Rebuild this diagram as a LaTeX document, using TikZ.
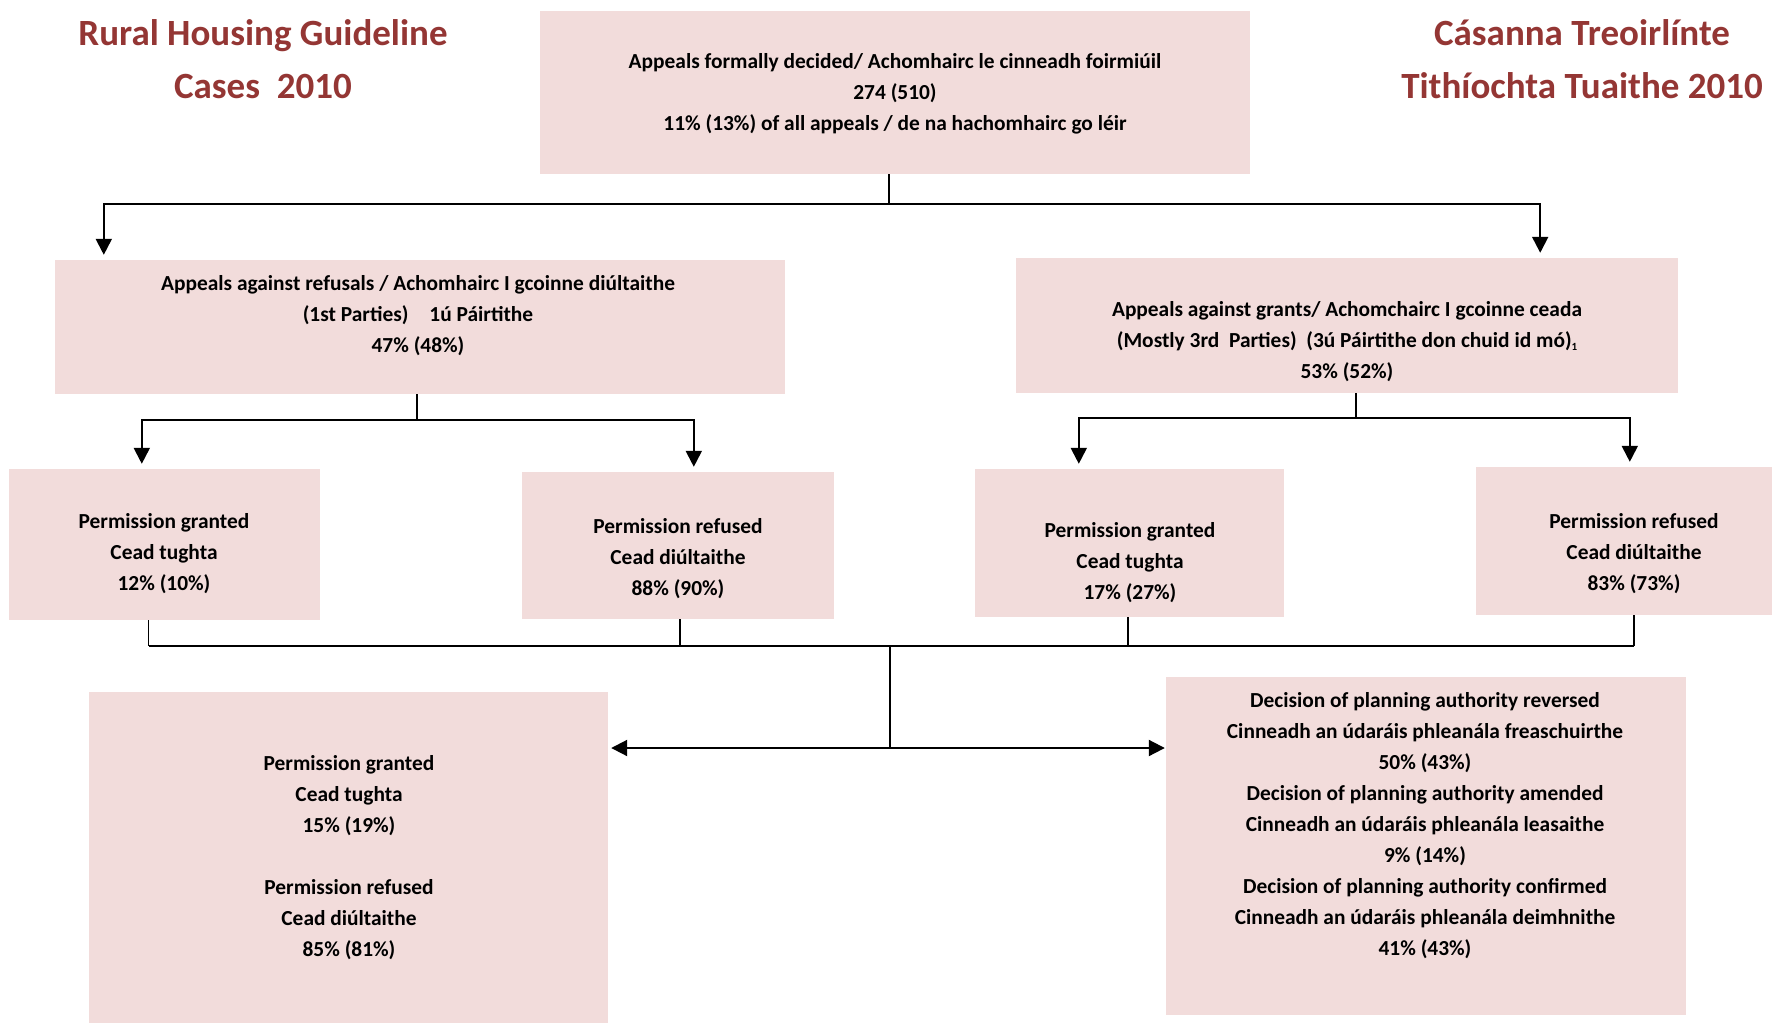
\documentclass[tikz,border=0pt]{standalone}
\usepackage{fontspec}
\setmainfont{Carlito}
\usetikzlibrary{arrows.meta}
\definecolor{boxfill}{HTML}{F2DCDB}
\definecolor{titlered}{HTML}{943634}
\begin{document}
\begin{tikzpicture}[x=1pt,y=-1pt,
  box/.style 2 args={fill=boxfill, draw=none, inner sep=0pt, minimum width=#1pt, minimum height=#2pt},
  txt/.style={align=center, inner sep=0pt, font=\fontsize{21.4}{31}\selectfont\bfseries},
  ttl/.style={align=center, inner sep=0pt, text=titlered, font=\fontsize{37}{53}\selectfont\bfseries},
  conn/.style={line width=2pt},
  thinconn/.style={line width=1.3pt},
  arr/.style={conn, -{Triangle[length=16pt,width=16pt]}, shorten >=5pt},
  darr/.style={conn, {Triangle[length=16pt,width=16pt]}-{Triangle[length=16pt,width=16pt]}, shorten <=3pt, shorten >=1pt}]
\useasboundingbox (0,0) rectangle (1772,1023);

% titles
\node[ttl] (tl) at (263,59) {Rural Housing Guideline\\Cases\ \ 2010};
\node[ttl] (tr) at (1582,59) {Cásanna Treoirlínte\\Tithíochta Tuaithe 2010};

% boxes
\node[box={710}{163}] (top) at (895,92.5) {};
\node[box={730}{134}] (lmid) at (420,327) {};
\node[box={662}{135}] (rmid) at (1347,325.5) {};
\node[box={311}{151}] (pg1) at (164.5,544.5) {};
\node[box={312}{147}] (pr1) at (678,545.5) {};
\node[box={309}{148}] (pg2) at (1129.5,543) {};
\node[box={296}{148}] (pr2) at (1624,541) {};
\node[box={519}{331}] (bl) at (348.5,857.5) {};
\node[box={520}{338}] (br) at (1426,846) {};

% texts
\node[txt] (topT) at (895,94) {Appeals formally decided/ Achomhairc le cinneadh foirmiúil\\274 (510)\\11\% (13\%) of all appeals / de na hachomhairc go léir};
\node[txt] (lmidT) at (418,316) {Appeals against refusals / Achomhairc I gcoinne diúltaithe\\(1st Parties)\hspace{0.75em} 1ú Páirtithe\\47\% (48\%)};
\node[txt] (rmidT) at (1347,342) {Appeals against grants/ Achomchairc I gcoinne ceada\\(Mostly 3rd\ \ Parties)\ \ (3ú Páirtithe don chuid id mó)\raisebox{-0.25ex}{\fontsize{11}{11}\selectfont 1}\\53\% (52\%)};
\node[txt] (pg1T) at (164,554) {Permission granted\\Cead tughta\\12\% (10\%)};
\node[txt] (pr1T) at (678,559) {Permission refused\\Cead diúltaithe\\88\% (90\%)};
\node[txt] (pg2T) at (1130,563) {Permission granted\\Cead tughta\\17\% (27\%)};
\node[txt] (pr2T) at (1634,554) {Permission refused\\Cead diúltaithe\\83\% (73\%)};
\node[txt] (blT) at (349,858) {Permission granted\\Cead tughta\\15\% (19\%)\\[31pt]Permission refused\\Cead diúltaithe\\85\% (81\%)};
\node[txt] (brT) at (1425,826) {Decision of planning authority reversed\\Cinneadh an údaráis phleanála freaschuirthe\\50\% (43\%)\\Decision of planning authority amended\\Cinneadh an údaráis phleanála leasaithe\\9\% (14\%)\\Decision of planning authority confirmed\\Cinneadh an údaráis phleanála deimhnithe\\41\% (43\%)};

% connectors: top level
\coordinate (j0) at ([xshift=-6pt]top.south |- 0,204);
\draw[conn] ([xshift=-6pt]top.south) -- (j0);
\draw[arr] (j0) -| ([xshift=49pt]lmid.north west);
\draw[arr] (j0) -| ([xshift=-138pt]rmid.north east);

% left sub
\coordinate (j1) at ([xshift=-3pt]lmid.south |- 0,420);
\draw[conn] ([xshift=-3pt]lmid.south) -- (j1);
\draw[arr] (j1) -| ([xshift=133pt]pg1.north west);
\draw[arr] (j1) -| ([xshift=172pt]pr1.north west);

% right sub
\coordinate (j2) at ([xshift=9pt]rmid.south |- 0,418);
\draw[conn] ([xshift=9pt]rmid.south) -- (j2);
\draw[arr] (j2) -| ([xshift=104pt]pg2.north west);
\draw[arr] (j2) -| ([xshift=154pt]pr2.north west);

% bottom collectors
\coordinate (b1) at ([xshift=140pt]pg1.south west |- 0,646);
\coordinate (b2) at ([xshift=2pt]pr1.south |- 0,646);
\coordinate (b3) at ([xshift=-1.5pt]pg2.south |- 0,646);
\coordinate (b4) at ([xshift=10pt]pr2.south |- 0,646);
\draw[thinconn] ([xshift=140pt]pg1.south west) -- (b1);
\draw[thinconn] ([xshift=2pt]pr1.south) -- (b2);
\draw[thinconn] ([xshift=-1.5pt]pg2.south) -- (b3);
\draw[thinconn] ([xshift=10pt]pr2.south) -- (b4);
\draw[conn] (b1) -- (b4);
\coordinate (jm) at (890,646);
\coordinate (jd) at (890,748);
\draw[thinconn, line width=1.6pt] (jm) -- (jd);
\draw[darr] (bl.east |- jd) -- (br.west |- jd);
\end{tikzpicture}
\end{document}
